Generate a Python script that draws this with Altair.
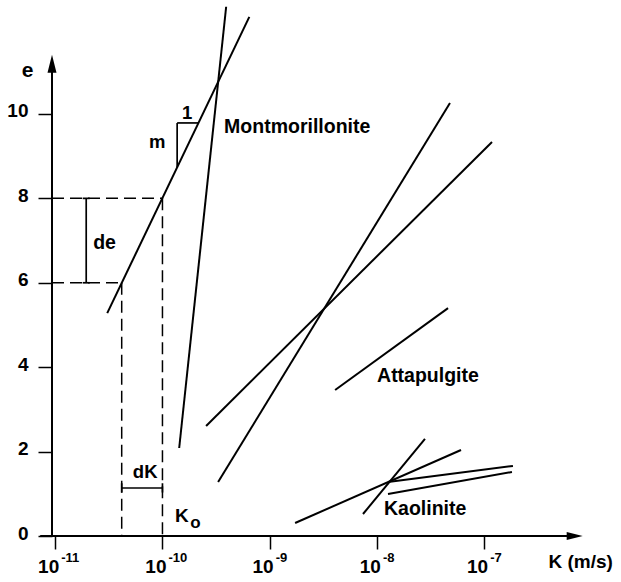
import altair as alt
import pandas as pd

FONT = "Liberation Sans"

# ---- data (x given as log10 of K in m/s, y = void ratio e) ----
# solid curves: Montmorillonite (A, B), Attapulgite (C, D, E), Kaolinite (F, G, H, I)
line_names = ["A", "B", "C", "D", "E", "F", "G", "H", "I"]
line_logk1 = [-10.515, -9.844, -9.593, -9.481, -8.390, -8.763, -7.897, -7.897, -8.130]
line_e1 = [5.28, 2.085, 2.607, 1.280, 3.46, 0.308, 1.280, 0.995, 0.521]
line_logk2 = [-9.19, -9.406, -6.927, -7.319, -7.337, -7.216, -6.732, -6.741, -7.552]
line_e2 = [12.30, 12.54, 9.336, 10.26, 5.40, 2.038, 1.659, 1.517, 2.299]

# slope triangle (m : 1) and brackets (de, dK)
aux_logk1 = [-9.863, -9.863, -10.711, -10.744, -10.744, -10.38, -10.38, -10.0]
aux_e1 = [8.734, 9.787, 6.0, 6.0, 8.0, 1.137, 1.03, 1.03]
aux_logk2 = [-9.863, -9.664, -10.711, -10.678, -10.678, -10.0, -10.38, -10.0]
aux_e2 = [9.787, 9.787, 8.0, 6.0, 8.0, 1.137, 1.25, 1.25]

# dashed construction lines
dash_logk1 = [-11.03, -11.03, -10.38, -10.0]
dash_e1 = [6.0, 8.0, 6.0, 8.0]
dash_logk2 = [-10.38, -10.0, -10.38, -10.0]
dash_e2 = [6.0, 8.0, 0.0, 0.0]

# axis lines (with arrow heads)
axis_logk1 = [-11.03, -11.14]
axis_e1 = [0.0, 0.0]
axis_logk2 = [-11.03, -6.2]
axis_e2 = [11.0, 0.0]
arrow_logk = [-11.03, -6.156]
arrow_e = [11.19, 0.0]
arrow_shape = ["M0,-1L0.5,1L-0.5,1Z", "M1,0L-1,-0.5L-1,0.5Z"]

# labels
big_labels = ["Montmorillonite", "Attapulgite", "Kaolinite", "de"]
big_logk = [-9.425, -7.999, -7.934, -10.646]
big_e = [9.69, 3.79, 0.64, 6.94]

center_labels = ["m", "1", "dK"]
center_logk = [-10.049, -9.770, -10.161]
center_e = [9.34, 10.02, 1.517]

ko_main = ["K"]
ko_logk = [-9.882]
ko_e = [0.47]
ko_sub = ["o"]
ko_sub_logk = [-9.742]
ko_sub_e = [0.30]

tick_exponents = [-11, -10, -9, -8, -7]
y_ticks = [0, 2, 4, 6, 8, 10]


def seg_df(k1, e1, k2, e2):
    return pd.DataFrame({
        "k1": [10 ** v for v in k1], "e1": e1,
        "k2": [10 ** v for v in k2], "e2": e2,
    })


df_lines = seg_df(line_logk1, line_e1, line_logk2, line_e2)
df_aux = seg_df(aux_logk1, aux_e1, aux_logk2, aux_e2)
df_dash = seg_df(dash_logk1, dash_e1, dash_logk2, dash_e2)
df_axis = seg_df(axis_logk1, axis_e1, axis_logk2, axis_e2)

x_scale = alt.Scale(type="log", domain=[10 ** -11.03, 10 ** -5.92], nice=False)
y_scale = alt.Scale(domain=[0, 12.7], nice=False, zero=False)

x_axis = alt.Axis(
    values=[10.0 ** p for p in tick_exponents], labels=False, domain=False, grid=False,
    tickSize=13, tickWidth=1.5, tickColor="black",
    title="K (m/s)", titleFont=FONT, titleFontSize=19, titleFontWeight="bold",
    titleColor="black", titleAlign="left", titleBaseline="middle", titleX=496, titleY=25,
)
y_axis = alt.Axis(
    values=y_ticks, domain=False, grid=False, tickSize=14, tickWidth=1.5, tickColor="black",
    labelFont=FONT, labelFontSize=19, labelFontWeight="bold", labelColor="black",
    labelPadding=10, labelOffset=-3,
    title="e", titleAngle=0, titleX=-25, titleY=70, titleAlign="center",
    titleBaseline="middle", titleFont=FONT, titleFontSize=21, titleFontWeight="bold",
    titleColor="black",
)


def seg_layer(df, **mark):
    return alt.Chart(df).mark_rule(color="black", **mark).encode(
        x=alt.X("k1:Q", scale=x_scale, axis=x_axis),
        y=alt.Y("e1:Q", scale=y_scale, axis=y_axis),
        x2="k2:Q", y2="e2:Q",
    )


lines = seg_layer(df_lines, strokeWidth=2)
aux = seg_layer(df_aux, strokeWidth=1.7)
dashes = seg_layer(df_dash, strokeWidth=1.5, strokeDash=[12, 6])
axes_lines = seg_layer(df_axis, strokeWidth=2)

arrows = []
for k, e, shp, size in zip(arrow_logk, arrow_e, arrow_shape, [324, 256]):
    arrows.append(
        alt.Chart(pd.DataFrame({"k1": [10 ** k], "e1": [e]})).mark_point(
            shape=shp, filled=True, size=size, color="black", opacity=1, strokeWidth=0
        ).encode(
            x=alt.X("k1:Q", scale=x_scale, axis=x_axis),
            y=alt.Y("e1:Q", scale=y_scale, axis=y_axis),
        )
    )


def text_layer(labels, logk, e, **mark):
    df = pd.DataFrame({"k1": [10 ** v for v in logk], "e1": e, "t": labels})
    return alt.Chart(df).mark_text(
        font=FONT, fontWeight="bold", color="black", **mark
    ).encode(
        x=alt.X("k1:Q", scale=x_scale, axis=x_axis),
        y=alt.Y("e1:Q", scale=y_scale, axis=y_axis),
        text="t:N",
    )


big_text = text_layer(big_labels, big_logk, big_e, align="left", baseline="middle", fontSize=19.5)
center_text = text_layer(center_labels, center_logk, center_e, align="center", baseline="middle", fontSize=18.5)
ko_text = text_layer(ko_main, ko_logk, ko_e, align="left", baseline="middle", fontSize=19)
ko_sub_text = text_layer(ko_sub, ko_sub_logk, ko_sub_e, align="left", baseline="middle", fontSize=17)

tick_base = text_layer(["10"] * len(tick_exponents), tick_exponents, [0] * len(tick_exponents),
                       align="right", baseline="alphabetic", dx=4, dy=37, fontSize=19)
tick_sup = text_layer([str(p) for p in tick_exponents], tick_exponents, [0] * len(tick_exponents),
                      align="left", baseline="alphabetic", dx=6, dy=26, fontSize=13)

chart = alt.layer(
    dashes, lines, aux, axes_lines, *arrows,
    big_text, center_text, ko_text, ko_sub_text, tick_base, tick_sup,
).properties(
    width=548, height=536,
    padding={"left": 52, "top": 0, "right": 21, "bottom": 46},
    autosize=alt.AutoSizeParams(type="none"),
    background="white",
).configure_view(strokeWidth=0)

chart.save("out.html", embed_options={"renderer": "svg", "actions": False})
